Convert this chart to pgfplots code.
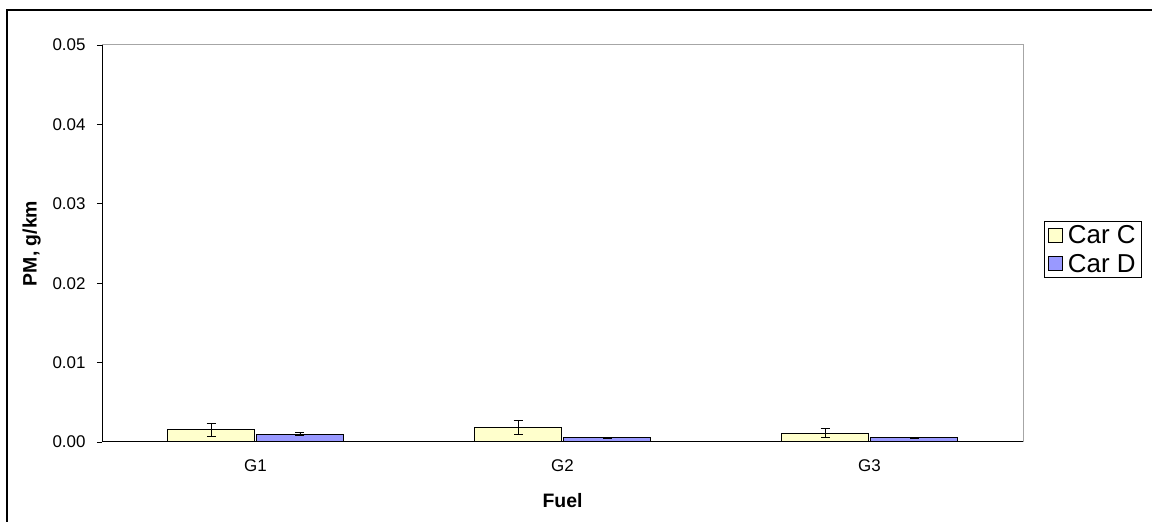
\documentclass[border=0pt]{standalone}
\usepackage{pgfplots}
\pgfplotsset{compat=1.18}
\usepackage{fontspec}
\setmainfont{Liberation Sans}
\definecolor{carC}{HTML}{FFFFCC}
\definecolor{carD}{HTML}{9999FF}
\begin{document}
\begin{tikzpicture}[x=1bp,y=1bp]
\begin{axis}[
  name=ax,
  scale only axis,
  width=921bp, height=397bp,
  xmin=-0.5, xmax=2.5,
  ymin=0, ymax=0.05,
  xtick={0,1,2},
  xticklabels={G1,G2,G3},
  extra x ticks={0.5,1.5},
  extra x tick labels={},
  extra x tick style={major tick length=6bp, tick style={black}},
  major x tick style={draw=none},
  ytick={0,0.01,0.02,0.03,0.04,0.05},
  scaled y ticks=false,
  yticklabel style={/pgf/number format/fixed, /pgf/number format/fixed zerofill, /pgf/number format/precision=2, xshift=-8bp},
  xticklabel style={yshift=-9bp},
  /pgf/number format/assume math mode=true,
  ticklabel style={font=\fontsize{17}{20}\selectfont},
  tick align=outside,
  major tick length=5bp,
  ytick pos=left,
  xtick pos=bottom,
  tick style={black, line width=0.8pt},
  axis line style={draw=gray!70, line width=1pt},
  xlabel={\textbf{Fuel}},
  ylabel={\textbf{PM, g/km}},
  label style={font=\fontsize{19.5}{23}\selectfont},
  xlabel style={yshift=-4bp},
  ylabel style={yshift=5bp},
  ybar,
  bar width=87bp,
  legend style={at={(1.0228,0.485)}, anchor=west, draw=black, line width=0.8pt,
    font=\fontsize{26}{30}\selectfont, row sep=5bp, column sep=3bp, inner xsep=4bp, inner ysep=2bp},
  legend cell align=left,
  legend image code/.code={\draw[#1, line width=0.6pt] (0bp,-7bp) rectangle (14bp,7bp);},
  error bars/error bar style={black, line width=0.8pt},
  error bars/error mark options={rotate=90, mark size=4.5bp, line width=0.8pt},
]
\addplot[fill=carC, draw=black, line width=0.8pt,
  error bars/.cd, y dir=both, y explicit]
  coordinates {(0,0.00155) +- (0,0.00084) (1,0.0018) +- (0,0.00086) (2,0.00113) +- (0,0.0006)};
\addplot[fill=carD, draw=black, line width=0.8pt,
  error bars/.cd, y dir=both, y explicit]
  coordinates {(0,0.00097) +- (0,0.0002) (1,0.00052) +- (0,0.0001) (2,0.00052) +- (0,0.00006)};
\legend{Car C, Car D}
\draw[black, line width=1pt] (rel axis cs:0,0) -- (rel axis cs:1,0);
\draw[black, line width=1pt] (rel axis cs:0,0) -- (rel axis cs:0,1);
\end{axis}
\useasboundingbox ([xshift=-102bp, yshift=-80bp]ax.south west) rectangle ([xshift=129bp, yshift=45bp]ax.north east);
\draw[black, line width=2pt] ([xshift=-95bp, yshift=-90bp]ax.south west) -- ([xshift=-95bp, yshift=35bp]ax.north west) -- ([xshift=140bp, yshift=35bp]ax.north east);
\end{tikzpicture}
\end{document}
